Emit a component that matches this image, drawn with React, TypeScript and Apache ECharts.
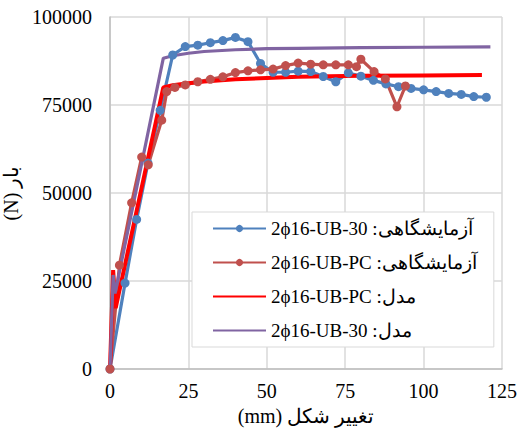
import React, { useEffect, useRef } from "react";
import * as echarts from "echarts";

// x: deformation (mm), y: load (N)
const blueX = [0, 4.8, 8.5, 12.1, 16, 20, 24, 28, 32, 36, 40, 44, 48, 52, 56, 60, 64, 68, 72, 76, 80, 84, 88, 92, 96, 100, 104, 108, 112, 116, 120];
const blueY = [0, 24400, 42500, 58500, 73500, 89200, 91600, 92000, 92700, 93300, 94200, 93000, 86800, 84300, 84300, 84600, 84500, 83100, 81600, 84100, 83200, 82000, 81000, 80200, 79700, 79300, 78800, 78300, 78000, 77400, 77200];

const darkRedX = [0, 3.0, 6.9, 10.1, 12.2, 16.5, 18.1, 20.7, 24, 28, 32, 36, 40, 44, 48, 52, 56, 60, 64, 68, 72, 76, 78.6, 80, 84.2, 87.8, 91.5, 94.2];
const darkRedY = [0, 29500, 47200, 60200, 58000, 70700, 78800, 80000, 80700, 81600, 82300, 83000, 84200, 84700, 85000, 85200, 86200, 86900, 86600, 86400, 86400, 86400, 85900, 88000, 84500, 82400, 74500, 80400];

const redModelX = [0, 1.0, 1.8, 17, 20, 25, 30, 40, 50, 60, 80, 100, 118.6];
const redModelY = [0, 28100, 17300, 80000, 80600, 81200, 81700, 82300, 82700, 83000, 83300, 83400, 83500];

const purpleModelX = [0, 1.0, 1.6, 17, 20, 25, 30, 40, 50, 60, 80, 100, 121.3];
const purpleModelY = [0, 26700, 21500, 88300, 89000, 89700, 90200, 90700, 91000, 91100, 91300, 91400, 91500];

const xTicks = { min: 0, max: 125, interval: 25 };
const yTicks = { min: 0, max: 100000, interval: 25000 };

const seriesNames = [
  "2ϕ16-UB-30 :آزمایشگاهی",
  "2ϕ16-UB-PC :آزمایشگاهی",
  "2ϕ16-UB-PC :مدل",
  "2ϕ16-UB-30 :مدل",
];
const xTitle = "(mm) تغییر شکل";
const yTitle = "(N) بار";

const pairs = (xs: number[], ys: number[]) => xs.map((x, i) => [x, ys[i]]);

const FONT = "Liberation Serif";

export default function App() {
  const ref = useRef<HTMLDivElement>(null);
  useEffect(() => {
    if (!ref.current) return;
    const chart = echarts.init(ref.current, undefined, { renderer: "svg" });
    chart.setOption({
      animation: false,
      backgroundColor: "#fff",
      textStyle: { fontFamily: FONT },
      grid: { left: 110, right: 17, top: 17, bottom: 59, containLabel: false, outerBoundsMode: "none" },
      legend: {
        orient: "vertical",
        left: 192,
        top: 212,
        itemWidth: 53,
        itemHeight: 9,
        itemGap: 15,
        padding: [7, 17, 7, 20],
        backgroundColor: "#fff",
        borderColor: "#D9D9D9",
        borderWidth: 1,
        textStyle: { fontFamily: FONT, fontSize: 19, color: "#000" },
        data: [
          { name: seriesNames[0] },
          { name: seriesNames[1] },
          { name: seriesNames[2], itemStyle: { opacity: 0 } },
          { name: seriesNames[3], itemStyle: { opacity: 0 } },
        ],
      },
      xAxis: {
        type: "value",
        min: xTicks.min,
        max: xTicks.max,
        interval: xTicks.interval,
        name: xTitle,
        nameLocation: "middle",
        nameGap: 34,
        nameTextStyle: { fontFamily: FONT, fontSize: 20, color: "#000" },
        axisLine: { show: true, lineStyle: { color: "#BFBFBF", width: 1.5 } },
        axisTick: { show: false },
        axisLabel: { fontFamily: FONT, fontSize: 20, color: "#000", margin: 12, formatter: (v: number) => String(v) },
        splitLine: { show: true, lineStyle: { color: "#D9D9D9", width: 1.5 } },
      },
      yAxis: {
        type: "value",
        min: yTicks.min,
        max: yTicks.max,
        interval: yTicks.interval,
        name: yTitle,
        nameLocation: "middle",
        nameRotate: 90,
        nameGap: 82,
        nameTextStyle: { fontFamily: FONT, fontSize: 20, color: "#000" },
        axisLine: { show: true, lineStyle: { color: "#BFBFBF", width: 1.5 } },
        axisTick: { show: false },
        axisLabel: { fontFamily: FONT, fontSize: 20, color: "#000", margin: 18, formatter: (v: number) => String(v) },
        splitLine: { show: true, lineStyle: { color: "#D9D9D9", width: 1.5 } },
      },
      series: [
        {
          name: seriesNames[0],
          type: "line",
          data: pairs(blueX, blueY),
          symbol: "circle",
          symbolSize: 9,
          itemStyle: { color: "#4F81BD" },
          lineStyle: { color: "#4F81BD", width: 3.2 },
        },
        {
          name: seriesNames[1],
          type: "line",
          data: pairs(darkRedX, darkRedY),
          symbol: "circle",
          symbolSize: 9,
          itemStyle: { color: "#C0504D" },
          lineStyle: { color: "#C0504D", width: 3.2 },
        },
        {
          name: seriesNames[2],
          type: "line",
          data: pairs(redModelX, redModelY),
          symbol: "none",
          itemStyle: { color: "#FF0000" },
          lineStyle: { color: "#FF0000", width: 4 },
        },
        {
          name: seriesNames[3],
          type: "line",
          data: pairs(purpleModelX, purpleModelY),
          symbol: "none",
          itemStyle: { color: "#8064A2" },
          lineStyle: { color: "#8064A2", width: 3.2 },
        },
      ],
    });
    return () => chart.dispose();
  }, []);
  return (
    <div
      ref={ref}
      style={{ position: "absolute", left: 0, top: 0, width: 519, height: 428, background: "#fff" }}
    />
  );
}
